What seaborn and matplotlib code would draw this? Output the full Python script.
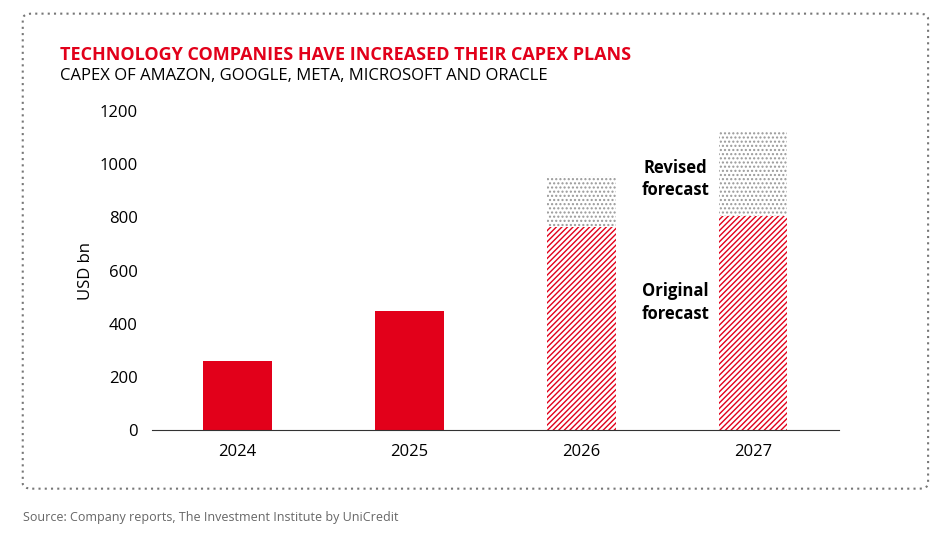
import matplotlib
matplotlib.use('Agg')
import matplotlib.pyplot as plt
import matplotlib.patches as mpatches
import seaborn as sns
import pandas as pd

years = ['2024', '2025', '2026', '2027']
actual = [262, 448, 0, 0]
original = [0, 0, 765, 806]
revised_total = [0, 0, 956, 1121]

RED = '#e2001a'

sns.set_style('white')
plt.rcParams['font.family'] = ['Open Sans', 'DejaVu Sans']
plt.rcParams['hatch.linewidth'] = 1.0
plt.rcParams['hatch.color'] = '#888888'

fig = plt.figure(figsize=(9.48, 5.46), dpi=100)
ax = fig.add_axes([0.16, 0.212, 0.725, 0.585])

df = pd.DataFrame({'year': years, 'actual': actual, 'original': original, 'revised': revised_total})

# revised forecast (dotted grey) behind
sns.barplot(data=df, x='year', y='revised', color='white', width=0.4, ax=ax)
for p in ax.patches:
    p.set_hatch('....')
    p.set_edgecolor('#999999')
    p.set_linewidth(0)
n0 = len(ax.patches)
sns.barplot(data=df, x='year', y='original', color='white', width=0.4, ax=ax)
for p in ax.patches[n0:]:
    p.set_hatch('//////')
    p.set_edgecolor(RED)
    p.set_linewidth(0)
n1 = len(ax.patches)
sns.barplot(data=df, x='year', y='actual', color=RED, width=0.4, ax=ax, saturation=1)
for p in ax.patches[n1:]:
    p.set_linewidth(0)

ax.set_ylim(0, 1200)
ax.set_yticks(range(0, 1201, 200))
ax.set_xlim(-0.5, 3.5)
ax.set_xlabel('')
ax.set_ylabel('USD bn', fontsize=12, color='black')
for s in ['top', 'right', 'left']:
    ax.spines[s].set_visible(False)
ax.spines['bottom'].set_color('#333333')
ax.tick_params(axis='both', labelsize=12, length=0, pad=10, labelcolor='black')

ax.text(2.55, 945, 'Revised\nforecast', fontsize=12, fontweight='bold', ha='center', va='center', linespacing=1.3, color='black')
ax.text(2.55, 480, 'Original\nforecast', fontsize=12, fontweight='bold', ha='center', va='center', linespacing=1.3, color='black')

fig.text(0.063, 0.9, 'TECHNOLOGY COMPANIES HAVE INCREASED THEIR CAPEX PLANS', color=RED,
         fontsize=13, fontweight='bold', va='center')
fig.text(0.063, 0.86, 'CAPEX OF AMAZON, GOOGLE, META, MICROSOFT AND ORACLE', fontsize=12, va='center', color='black')
fig.text(0.024, 0.053, 'Source: Company reports, The Investment Institute by UniCredit', fontsize=9,
         color='#666666', va='center')

frame = mpatches.FancyBboxPatch((0.024, 0.105), 0.955, 0.87, transform=fig.transFigure,
                                boxstyle='round,pad=0,rounding_size=0.01', fill=False,
                                edgecolor='#777777', linestyle=(0, (1, 2)), linewidth=1.5)
fig.patches.append(frame)

fig.savefig('out.png', dpi=100)
